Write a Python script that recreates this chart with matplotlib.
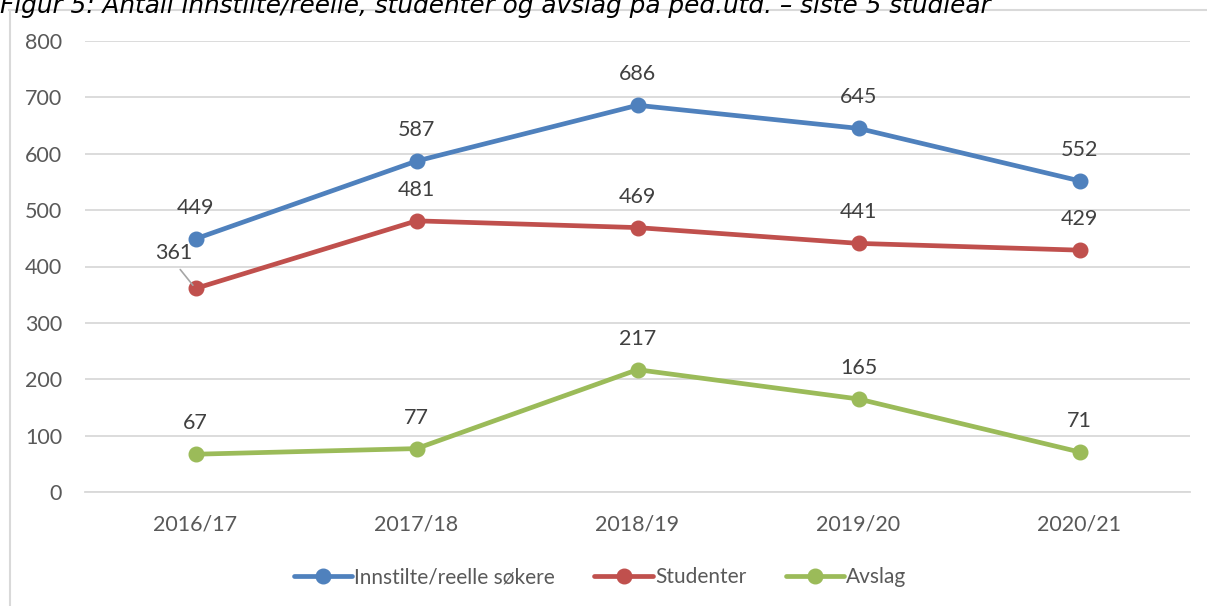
import matplotlib.pyplot as plt
from matplotlib.lines import Line2D

years = ['2016/17', '2017/18', '2018/19', '2019/20', '2020/21']
sokere = [449, 587, 686, 645, 552]
studenter = [361, 481, 469, 441, 429]
avslag = [67, 77, 217, 165, 71]
navn = ['Innstilte/reelle søkere', 'Studenter', 'Avslag']
farger = ['#4F81BD', '#C0504D', '#9BBB59']
tittel = 'Figur 5: Antall innstilte/reelle, studenter og avslag på ped.utd. – siste 5 studieår'

plt.rcParams['font.family'] = ['Lato', 'DejaVu Sans']

fig = plt.figure(figsize=(12.07, 6.06), dpi=100)
ax = fig.add_axes([85/1207, 114/606, 1105/1207, 451/606])

x = range(len(years))
serier = [sokere, studenter, avslag]
for verdier, farge, lab in zip(serier, farger, navn):
    ax.plot(x, verdier, color=farge, lw=3.4, marker='o', ms=10.5,
            solid_capstyle='round', label=lab, zorder=3)

# dataetiketter
for verdier in serier:
    for i, v in enumerate(verdier):
        if verdier is studenter and i == 0:
            continue
        ax.annotate(str(v), (i, v), xytext=(0, 31), textcoords='offset pixels',
                    ha='center', va='center', fontsize=15.5, color='#404040')
# 361 med leder-linje
ax.annotate(str(studenter[0]), (0, studenter[0]), xytext=(-22, 35),
            textcoords='offset pixels', ha='center', va='center',
            fontsize=15.5, color='#404040',
            arrowprops=dict(arrowstyle='-', color='#a6a6a6', lw=1.2,
                            shrinkA=3, shrinkB=3, relpos=(0.55, 0)))

ax.set_ylim(0, 800)
ax.set_xlim(-0.5, 4.5)
ax.set_yticks(range(0, 801, 100))
ax.set_xticks(list(x))
ax.set_xticklabels(years)
ax.grid(axis='y', color='#d9d9d9', lw=1.3)
ax.set_axisbelow(True)
for s in ['top', 'right', 'left']:
    ax.spines[s].set_visible(False)
ax.spines['bottom'].set_color('#d9d9d9')
ax.spines['bottom'].set_linewidth(1.3)
ax.tick_params(length=0, labelsize=15.5, colors='#595959', pad=16.5)

ax.legend(loc='center', bbox_to_anchor=(600/1207, 29/606),
          bbox_transform=fig.transFigure, ncol=3,
          frameon=False, fontsize=15, labelcolor='#595959',
          handlelength=2.8, handletextpad=0.1, columnspacing=1.9)

# ramme rundt diagrammet
fig.add_artist(Line2D([9.5/1207, 9.5/1207], [0, 1 - 10/606], color='#d9d9d9', lw=1.5))
fig.add_artist(Line2D([9/1207, 1], [1 - 10/606, 1 - 10/606], color='#d9d9d9', lw=1.5))

# tittelen er delvis skjult i toppen, som i originalen
fig.text(0.0, 1 - 13.5/606, tittel, fontsize=17.8, style='italic',
         family='DejaVu Sans', va='baseline', ha='left', color='#000000')

fig.savefig('out.png', dpi=100)
